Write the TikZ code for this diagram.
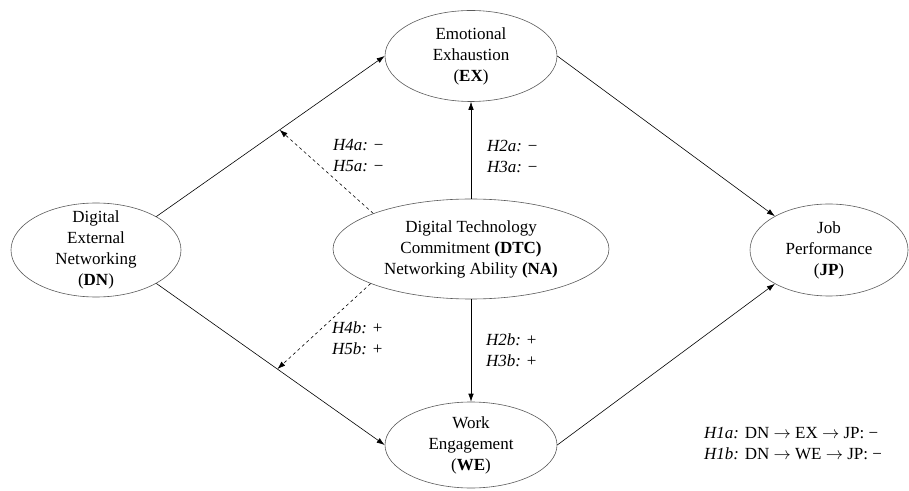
\documentclass[tikz,border=0pt]{standalone}
\usepackage{fontspec}
\setmainfont{Liberation Serif}
\usepackage{tikz}
\usetikzlibrary{positioning,arrows.meta,calc,shapes.geometric}
\definecolor{RimGray}{RGB}{90,90,90}

\begin{document}
\begin{tikzpicture}[x=1pt,y=1pt,
    font=\fontsize{17}{21}\selectfont,
    construct/.style={ellipse,draw=RimGray,line width=0.6pt,inner sep=0pt,align=center},
    path/.style={-{Latex[length=8pt,width=5.5pt]},line width=0.6pt},
    moderate/.style={path,dashed},
    hyp/.style={right,align=left,inner sep=0pt}]
            \useasboundingbox (0,0) rectangle (909,490);
            \node[construct,minimum width=172pt,minimum height=91pt] (EX) at (471,434) {Emotional\\Exhaustion\\(\textbf{EX})};
            \node[construct,minimum width=276pt,minimum height=100pt] (DTC) at (471,241) {Digital Technology\\Commitment \textbf{(DTC)}\\Networking Ability \textbf{(NA)}};
            \node[construct,minimum width=170pt,minimum height=94pt,inner ysep=-9pt] (DN) at (96,240) {Digital\\External\\Networking\\(\textbf{DN})};
            \node[construct,minimum width=158pt,minimum height=92pt] (JP) at (829,240) {Job\\Performance\\(\textbf{JP})};
            \node[construct,minimum width=172pt,minimum height=86pt] (WE) at (471,45) {Work\\Engagement\\(\textbf{WE})};
            \draw[path] (DN.29) -- coordinate[pos=0.54] (Mup) (EX.west);
            \draw[path] (DN.-29) -- coordinate[pos=0.53] (Mdown) (WE.west);
            \draw[path] (EX.east) -- (JP.148);
            \draw[path] (WE.east) -- (JP.212);
            \draw[path] (DTC.north) -- (EX.south);
            \draw[path] (DTC.south) -- (WE.north);
            \draw[moderate] (DTC.160) -- (Mup);
            \draw[moderate] (DTC.199) -- (Mdown);
            \node[hyp] at (333,334) {\textit{H4a:} −\\\textit{H5a:} −};
            \node[hyp] at (487,334) {\textit{H2a:} −\\\textit{H3a:} −};
            \node[hyp] at (332,152) {\textit{H4b:} +\\\textit{H5b:} +};
            \node[hyp] at (486,140) {\textit{H2b:} +\\\textit{H3b:} +};
            \node[hyp] at (704,46) {\textit{H1a:} DN $\rightarrow$ EX $\rightarrow$ JP: −\\\textit{H1b:} DN $\rightarrow$ WE $\rightarrow$ JP: −};
        \end{tikzpicture}
\end{document}
